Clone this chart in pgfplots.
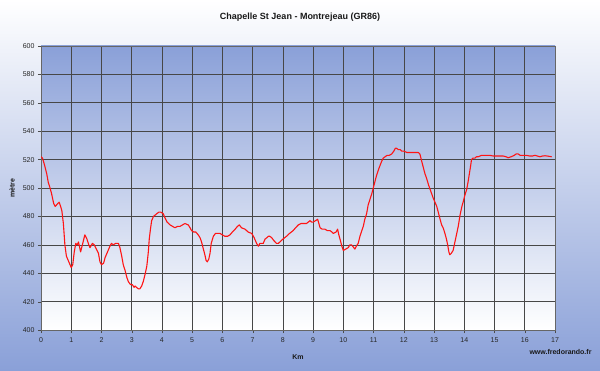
\documentclass[border=0pt]{standalone}
\usepackage{pgfplots}
\pgfplotsset{compat=1.18}
\usepackage{fontspec}
\setmainfont{Liberation Sans}
\definecolor{bgblue}{RGB}{138,160,216}
\definecolor{plotred}{RGB}{255,20,20}
\begin{document}
\begin{tikzpicture}[x=1pt,y=1pt]
\shade[top color=white, bottom color=bgblue] (0,0) rectangle (600,370);
\begin{axis}[at={(41pt,40pt)}, anchor=south west, scale only axis,
  width=514pt, height=284pt,
  xmin=0, xmax=17, ymin=400, ymax=600,
  xtick distance=1, ytick={400,420,...,600},
  grid=major, major grid style={black!72, line width=0.6pt},
  axis background/.style={top color=bgblue, bottom color=white},
  axis line style={black!60, line width=0.7pt},
  tick align=outside, tick pos=left, major tick length=3pt,
  tick style={black!70},
  ticklabel style={font=\fontsize{7}{8}\selectfont, text=black!85},
  xticklabel style={yshift=-1pt},
  /pgf/number format/assume math mode=true,
]
\addplot[plotred, line width=1.1pt, mark=none, line join=round] coordinates {
(0,522)(0.05,521)(0.12,516)(0.19,510)(0.24,504)(0.3,500)(0.35,496)(0.42,489)(0.47,487)(0.55,489)(0.6,490)(0.65,487)(0.69,484)(0.74,475)(0.79,460)(0.84,452)(0.92,448)(1.0,444)(1.05,446)(1.1,455)(1.15,461)(1.2,460)(1.24,462)(1.31,455)(1.38,461)(1.45,467)(1.52,464)(1.58,460)(1.62,458)(1.7,461)(1.76,460)(1.83,457)(1.9,454)(1.95,448)(2.0,446)(2.07,447)(2.12,451)(2.2,455)(2.28,459)(2.33,461)(2.39,460)(2.47,461)(2.56,461)(2.61,458)(2.67,452)(2.72,446)(2.78,442)(2.84,437)(2.89,434)(2.96,432)(3.02,432)(3.08,430)(3.11,431)(3.16,430)(3.22,429)(3.27,429)(3.33,431)(3.38,434)(3.44,439)(3.5,445)(3.55,455)(3.58,464)(3.62,471)(3.66,477)(3.72,480)(3.78,481)(3.83,482)(3.9,483)(3.96,483)(4.04,482)(4.1,479)(4.17,476)(4.27,474)(4.35,473)(4.43,472)(4.52,473)(4.6,473)(4.68,474)(4.76,475)(4.87,474)(4.93,472)(4.98,470)(5.05,469)(5.12,469)(5.2,467)(5.26,465)(5.31,462)(5.37,457)(5.42,453)(5.46,449)(5.5,448)(5.55,450)(5.59,454)(5.63,461)(5.7,466)(5.77,468)(5.85,468)(5.92,468)(6.0,467)(6.08,466)(6.17,466)(6.25,467)(6.33,469)(6.42,471)(6.5,473)(6.56,474)(6.63,472)(6.75,471)(6.85,469)(6.97,468)(7.05,465)(7.13,461)(7.19,459)(7.24,461)(7.3,461)(7.35,461)(7.41,464)(7.47,465)(7.52,466)(7.57,466)(7.63,465)(7.7,463)(7.79,461)(7.85,461)(7.9,462)(8.0,464)(8.12,466)(8.22,468)(8.34,470)(8.42,472)(8.51,474)(8.6,475)(8.7,475)(8.78,475)(8.84,476)(8.9,477)(8.95,476)(9.0,476)(9.08,477)(9.15,478)(9.19,475)(9.23,472)(9.3,471)(9.39,471)(9.47,470)(9.56,470)(9.62,469)(9.67,468)(9.76,469)(9.81,471)(9.85,467)(9.89,464)(9.95,459)(10.0,456)(10.08,457)(10.16,458)(10.22,460)(10.27,460)(10.31,459)(10.38,457)(10.43,459)(10.49,461)(10.55,466)(10.61,470)(10.66,473)(10.71,478)(10.77,482)(10.82,488)(10.88,492)(10.94,496)(10.99,500)(11.05,505)(11.1,509)(11.18,514)(11.27,519)(11.32,521)(11.38,522)(11.45,523)(11.52,523)(11.6,524)(11.67,526)(11.72,528)(11.76,528)(11.82,527)(11.88,527)(11.93,526)(12.0,526)(12.1,525)(12.2,525)(12.31,525)(12.4,525)(12.48,525)(12.53,524)(12.59,519)(12.65,514)(12.7,510)(12.75,507)(12.82,502)(12.92,496)(12.97,493)(13.03,490)(13.09,487)(13.15,482)(13.2,478)(13.25,474)(13.3,472)(13.36,468)(13.41,464)(13.45,460)(13.49,455)(13.52,453)(13.57,454)(13.63,456)(13.68,461)(13.74,467)(13.8,473)(13.86,481)(13.92,487)(13.96,490)(14.02,495)(14.08,499)(14.13,505)(14.19,513)(14.24,520)(14.28,521)(14.35,521)(14.4,522)(14.46,522)(14.57,523)(14.7,523)(14.85,523)(14.96,522.5)(15.1,522.5)(15.29,522.5)(15.38,522)(15.45,521.3)(15.55,522)(15.65,523)(15.72,524)(15.78,524)(15.85,523)(15.95,523)(16.05,523)(16.17,522.5)(16.25,522.5)(16.34,523)(16.42,522.5)(16.5,522)(16.58,522.5)(16.67,522.7)(16.75,522.5)(16.89,522)
};
\end{axis}
\node[font=\bfseries\fontsize{9}{10}\selectfont, text=black!90] at (300,353) {Chapelle St Jean - Montrejeau (GR86)};
\node[font=\bfseries\fontsize{7}{8}\selectfont, text=black!90] at (298,13) {Km};
\node[font=\bfseries\fontsize{7}{8}\selectfont, text=black!90, rotate=90] at (12,182) {mètre};
\node[font=\bfseries\fontsize{7}{8}\selectfont, text=black!90, anchor=east] at (595,18) {www.fredorando.fr};
\end{tikzpicture}
\end{document}
